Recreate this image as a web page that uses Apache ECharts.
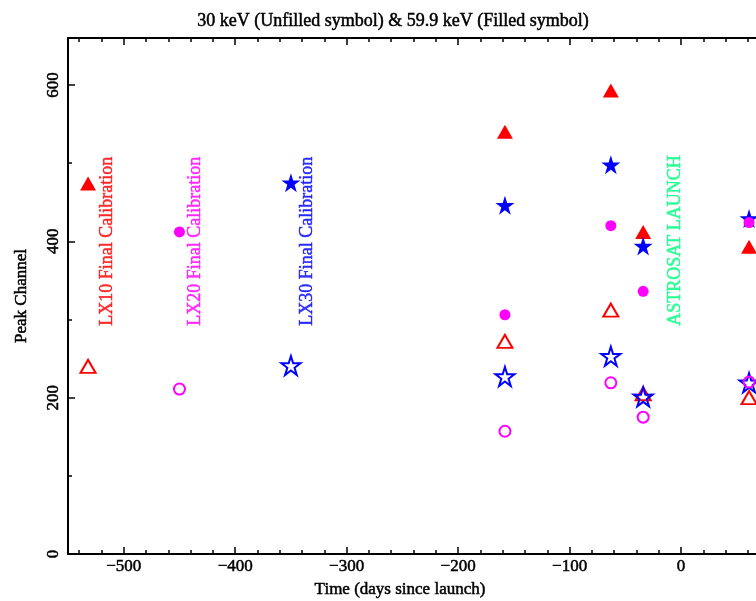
<!DOCTYPE html>
<html>
<head>
<meta charset="utf-8">
<script src="https://cdn.jsdelivr.net/npm/echarts@6/dist/echarts.min.js"></script>
<style>
  html, body { margin: 0; padding: 0; background: #fff; }
  #peak { width: 756px; height: 601px; }
</style>
</head>
<body>
<div id="peak"></div>
<script>
// days since launch for each detector
var lx10Days = [-532, -158, -63, -34, 61];
var lx20Days = [-450, -158, -63, -34, 61];
var lx30Days = [-350, -158, -63, -34, 61];

// peak channel, 30 keV (unfilled) and 59.9 keV (filled)
var lx10Low = [240, 272, 312, 205, 200];
var lx10High = [474, 540, 593, 412, 393];
var lx20Low = [211, 157, 219, 175, 220];
var lx20High = [412, 306, 420, 336, 424];
var lx30Low = [241, 227, 253, 201, 219];
var lx30High = [475, 446, 498, 394, 429];

// tick values
var xMajor = [-500, -400, -300, -200, -100, 0];
var xMinor = [-540, -520, -480, -460, -440, -420, -380, -360, -340, -320, -280, -260, -240, -220,
              -180, -160, -140, -120, -80, -60, -40, -20, 20, 40, 60];
var yMajor = [0, 200, 400, 600];
var yMinor = [100, 300, 500];

// vertical notes
var noteText = ['LX10 Final Calibration', 'LX20 Final Calibration', 'LX30 Final Calibration', 'ASTROSAT LAUNCH'];
var noteDay = [-515, -436, -335, -5];
var noteLevel = [292, 292, 292, 292];

var RED = '#ff0000', MAG = '#ff00ff', BLUE = '#0000ff', GREEN = '#00ff80';
var noteColor = [RED, MAG, BLUE, GREEN];
var FONT = 'Liberation Serif';

var STAR = 'path://M50 0 L61.17 34.63 L97.55 34.55 L68.07 55.87 L79.39 90.45 L50 69 L20.61 90.45 L31.93 55.87 L2.45 34.55 L38.83 34.63 Z';

function pairs(xs, ys) {
  return xs.map(function (x, i) { return [x, ys[i]]; });
}
function minus(v) { return String(v).replace('-', '\u2212'); }

// the plot's stroke font is a bit heavier than plain serif
function heavy(color, size) {
  return { fontFamily: FONT, fontSize: size, color: color, textBorderColor: color, textBorderWidth: 0.5 };
}

function openSeries(name, xs, ys, symbol, size, color) {
  return {
    name: name, type: 'scatter', symbol: symbol, symbolSize: size,
    itemStyle: { color: 'transparent', borderColor: color, borderWidth: 2, opacity: 1 },
    data: pairs(xs, ys)
  };
}
function filledSeries(name, xs, ys, symbol, size, color) {
  return {
    name: name, type: 'scatter', symbol: symbol, symbolSize: size,
    itemStyle: { color: color, opacity: 1 },
    data: pairs(xs, ys)
  };
}

function xAxisOf(pos, ticks, len, withLabels) {
  return {
    type: 'value', min: -550, max: 78, position: pos,
    splitLine: { show: false },
    axisLine: { show: withLabels !== null, onZero: false, lineStyle: { color: '#000', width: 2 } },
    axisTick: { inside: true, length: len, customValues: ticks, lineStyle: { color: '#000', width: 1.5 } },
    axisLabel: withLabels ? Object.assign({ customValues: ticks, formatter: minus, margin: 4 }, heavy('#000', 17))
                          : { show: false }
  };
}

var chart = echarts.init(document.getElementById('peak'));

var option = {
  backgroundColor: '#fff',
  animation: false,
  title: {
    text: '30 keV (Unfilled symbol) & 59.9 keV (Filled symbol)',
    left: 388, top: 7, textAlign: 'center',
    textStyle: Object.assign({ fontWeight: 'normal' }, heavy('#000', 18))
  },
  grid: { left: 68, top: 38, width: 700, bottom: 47, outerBoundsMode: 'none' },
  xAxis: [
    Object.assign(xAxisOf('bottom', xMajor, 7, true), {
      name: 'Time (days since launch)', nameLocation: 'middle', nameGap: 27,
      nameTextStyle: Object.assign({ padding: [0, 36, 0, 0] }, heavy('#000', 17))
    }),
    xAxisOf('bottom', xMinor, 4, null),
    xAxisOf('top', xMajor, 7, false),
    xAxisOf('top', xMinor, 4, null)
  ],
  yAxis: [
    {
      type: 'value', min: 0, max: 660, position: 'left',
      name: 'Peak Channel', nameLocation: 'middle', nameGap: 38, nameRotate: 90,
      nameTextStyle: heavy('#000', 17),
      splitLine: { show: false },
      axisLine: { onZero: false, lineStyle: { color: '#000', width: 2 } },
      axisTick: { inside: true, length: 7, customValues: yMajor, lineStyle: { color: '#000', width: 1.5 } },
      axisLabel: Object.assign({ customValues: yMajor, rotate: 90, margin: 6 }, heavy('#000', 17))
    },
    {
      type: 'value', min: 0, max: 660, position: 'left',
      splitLine: { show: false },
      axisLine: { show: false, onZero: false },
      axisTick: { inside: true, length: 4, customValues: yMinor, lineStyle: { color: '#000', width: 1.5 } },
      axisLabel: { show: false }
    }
  ],
  series: [
    openSeries('LX10 30 keV', lx10Days, lx10Low, 'triangle', [15, 13], RED),
    filledSeries('LX10 59.9 keV', lx10Days, lx10High, 'triangle', [16, 14], RED),
    openSeries('LX30 30 keV', lx30Days, lx30Low, STAR, 19, BLUE),
    filledSeries('LX30 59.9 keV', lx30Days, lx30High, STAR, 19, BLUE),
    openSeries('LX20 30 keV', lx20Days, lx20Low, 'circle', 11, MAG),
    filledSeries('LX20 59.9 keV', lx20Days, lx20High, 'circle', 11, MAG),
    {
      name: 'notes', type: 'scatter', symbolSize: 0, silent: true,
      data: noteText.map(function (t, i) {
        return {
          name: t, value: [noteDay[i], noteLevel[i]],
          label: heavy(noteColor[i], 18)
        };
      }),
      label: {
        show: true, position: [0, 0], rotate: 90, align: 'left', verticalAlign: 'middle',
        formatter: '{b}', fontFamily: FONT, fontSize: 18
      }
    }
  ]
};

chart.setOption(option);
</script>
</body>
</html>
